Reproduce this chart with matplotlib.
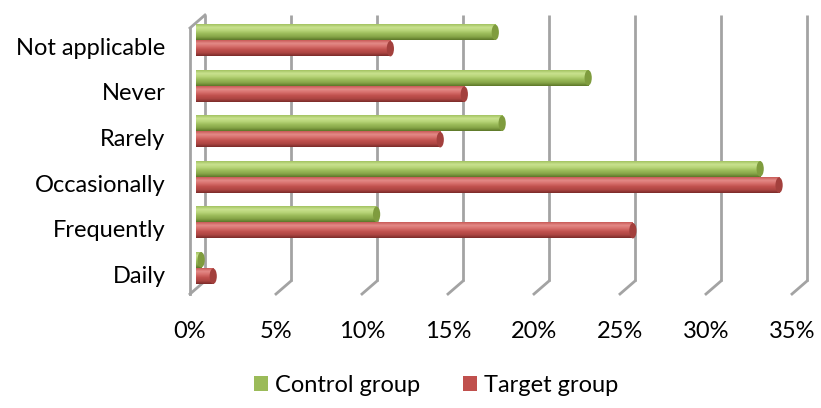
import numpy as np
import matplotlib
matplotlib.use("Agg")
import matplotlib.pyplot as plt
from matplotlib.colors import LinearSegmentedColormap
from matplotlib.patches import Ellipse, Patch
from matplotlib.transforms import ScaledTranslation

plt.rcParams['font.family'] = ['Lato', 'DejaVu Sans']

# Survey answers, bottom to top as drawn
categories = ['Daily', 'Frequently', 'Occasionally', 'Rarely', 'Never', 'Not applicable']
control = [0.3, 10.5, 32.8, 17.8, 22.8, 17.4]
target = [1.0, 25.4, 33.9, 14.2, 15.6, 11.3]
ticks = [0, 5, 10, 15, 20, 25, 30, 35]
tick_labels = ['0%', '5%', '10%', '15%', '20%', '25%', '30%', '35%']

fig = plt.figure(figsize=(8.21, 4.08), dpi=100)
W, H = 821, 408
ax = fig.add_axes([196 / W, (H - 295) / H, (798 - 196) / W, (295 - 15) / H])

ymin, ymax = -0.593, 5.56
ax.set_xlim(0, 35)
ax.set_ylim(ymin, ymax)
px = 602 / 35.0          # pixels per percent
py = 280 / (ymax - ymin)  # pixels per category unit
front = -6 / px          # floor front edge shift
back = 9 / px            # back wall shift
lift = 13 / py           # depth rise of the back wall

grid_c = '#a3a3a3'
floor_y = ymin + 1 / py
for v in ticks:
    ax.plot([v + back, v + back], [floor_y + lift, ymax], color=grid_c, lw=2, zorder=1,
            solid_capstyle='butt', clip_on=False)
    ax.plot([v + front, v + back], [floor_y, floor_y + lift], color=grid_c, lw=2, zorder=1,
            clip_on=False)
# left wall
ax.plot([front, front], [floor_y, ymax - lift], color=grid_c, lw=2, zorder=1, clip_on=False)
ax.plot([front, back], [ymax - lift, ymax], color=grid_c, lw=2, zorder=1, clip_on=False)

green_cm = LinearSegmentedColormap.from_list(
    'g', ['#5c7628', '#86a548', '#9bbb59', '#b7d478', '#c9e28f', '#a2c260'])
red_cm = LinearSegmentedColormap.from_list(
    'r', ['#7a2b29', '#ad4643', '#c0504d', '#d66e6b', '#e48a87', '#c85a57'])
grad = np.linspace(0, 1, 64).reshape(-1, 1)

bh = 0.34
off = 0.18


def cylinder(v, yc, cmap, cap):
    y0, y1 = yc - bh / 2, yc + bh / 2
    ax.imshow(grad, extent=[0, v, y0, y1], origin='lower', aspect='auto',
              cmap=cmap, zorder=3, interpolation='bilinear')
    ax.add_patch(Ellipse((v, yc), 0.42, bh, facecolor=cap, edgecolor='none', zorder=4))


for i in range(len(categories)):
    cylinder(control[i], i + off, green_cm, '#7f9c3e')
    cylinder(target[i], i - off, red_cm, '#a3403d')

ax.set_xlim(0, 35)
ax.set_ylim(ymin, ymax)
for s in ax.spines.values():
    s.set_visible(False)

fs = 17
ax.set_xticks(ticks)
ax.set_xticklabels(tick_labels, fontsize=fs)
ax.set_yticks(range(len(categories)))
ax.set_yticklabels(categories, fontsize=fs)
ax.tick_params(length=0)
ax.tick_params(axis='x', pad=19)
ax.tick_params(axis='y', pad=22)
for lbl in ax.get_xticklabels():
    lbl.set_transform(lbl.get_transform() + ScaledTranslation(-0.06, 0, fig.dpi_scale_trans))
for lbl in ax.get_yticklabels():
    lbl.set_transform(lbl.get_transform() + ScaledTranslation(0, -0.06, fig.dpi_scale_trans))

handles = [Patch(facecolor='#9bbb59', label='Control group'),
           Patch(facecolor='#c0504d', label='Target group')]
fig.legend(handles=handles, loc='center', bbox_to_anchor=(436 / W, (H - 385) / H), ncol=2,
           frameon=False, fontsize=fs, handlelength=0.6, handleheight=0.6,
           handletextpad=0.3, columnspacing=1.8)

fig.savefig('out.png', dpi=100)
